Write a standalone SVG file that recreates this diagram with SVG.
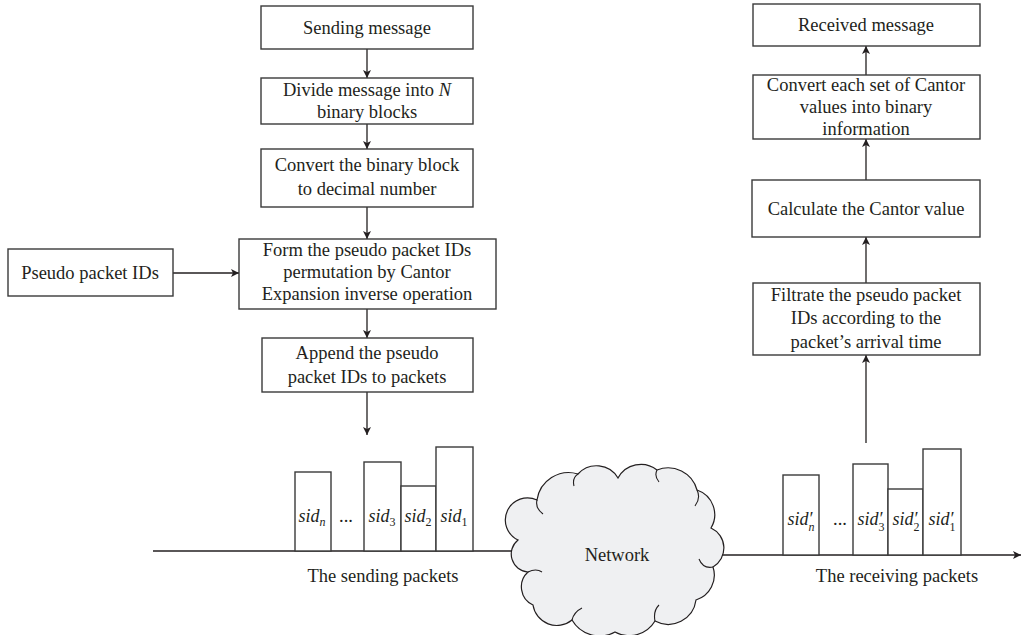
<svg xmlns="http://www.w3.org/2000/svg" width="1022" height="635" viewBox="0 0 1022 635">
<defs>
<marker id="ah" viewBox="0 0 10 10" refX="10" refY="5" markerWidth="8" markerHeight="8" markerUnits="userSpaceOnUse" orient="auto">
<path d="M0,0 L10,5 L0,10 L2.5,5 z" fill="#231f20"/>
</marker>
<style>
.box{fill:#fff;stroke:#3a3a3a;stroke-width:1.4}
.pk{fill:#fff;stroke:#3a3a3a;stroke-width:1.4}
.t{font-family:"Liberation Serif","Times New Roman",serif;font-size:18.5px;fill:#231f20;text-anchor:middle}
.s{font-family:"Liberation Serif","Times New Roman",serif;font-size:18px;font-style:italic;fill:#231f20;text-anchor:middle}
.sub{font-size:12px}
.subn{font-size:12px;font-style:normal}
.c{fill:none;stroke:#231f20;stroke-width:1.3}
.ca{fill:none;stroke:#231f20;stroke-width:1.3;marker-end:url(#ah)}
</style>
</defs>
<rect width="1022" height="635" fill="#fff"/>

<g id="connectors">
<line class="ca" x1="367" y1="49" x2="367" y2="78"/>
<line class="ca" x1="367" y1="124" x2="367" y2="149"/>
<line class="ca" x1="367" y1="207" x2="367" y2="239"/>
<line class="ca" x1="173" y1="273" x2="239" y2="273"/>
<line class="ca" x1="367" y1="309" x2="367" y2="338"/>
<line class="ca" x1="367" y1="392" x2="367" y2="435"/>
<line class="ca" x1="866" y1="443" x2="866" y2="355"/>
<line class="ca" x1="866" y1="283" x2="866" y2="237"/>
<line class="ca" x1="866" y1="180" x2="866" y2="139"/>
<line class="ca" x1="866" y1="75" x2="866" y2="46"/>
<line class="c" x1="153" y1="551" x2="520" y2="551"/>
<line class="ca" x1="714" y1="555" x2="1021" y2="555"/>
</g>

<g id="n-sending">
<rect class="box" x="261" y="6" width="212" height="43"/>
<text class="t" x="367" y="34">Sending message</text>
</g>
<g id="n-divide">
<rect class="box" x="261" y="78" width="212" height="46"/>
<text class="t" x="367" y="96">Divide message into <tspan font-style="italic">N</tspan></text>
<text class="t" x="367" y="118">binary blocks</text>
</g>
<g id="n-convert">
<rect class="box" x="261" y="149" width="212" height="58"/>
<text class="t" x="367" y="171">Convert the binary block</text>
<text class="t" x="367" y="195">to decimal number</text>
</g>
<g id="n-pseudo">
<rect class="box" x="8" y="249" width="165" height="47"/>
<text class="t" x="90" y="279">Pseudo packet IDs</text>
</g>
<g id="n-form">
<rect class="box" x="239" y="239" width="257" height="70"/>
<text class="t" x="367" y="256">Form the pseudo packet IDs</text>
<text class="t" x="367" y="278">permutation by Cantor</text>
<text class="t" x="367" y="300">Expansion inverse operation</text>
</g>
<g id="n-append">
<rect class="box" x="262" y="338" width="211" height="54"/>
<text class="t" x="367" y="359">Append the pseudo</text>
<text class="t" x="367" y="383">packet IDs to packets</text>
</g>

<g id="n-received">
<rect class="box" x="753" y="4" width="227" height="42"/>
<text class="t" x="866" y="31">Received message</text>
</g>
<g id="n-convert-each">
<rect class="box" x="753" y="75" width="227" height="64"/>
<text class="t" x="866" y="91">Convert each set of Cantor</text>
<text class="t" x="866" y="113">values into binary</text>
<text class="t" x="866" y="135">information</text>
</g>
<g id="n-calculate">
<rect class="box" x="752" y="180" width="228" height="57"/>
<text class="t" x="866" y="215">Calculate the Cantor value</text>
</g>
<g id="n-filtrate">
<rect class="box" x="753" y="283" width="227" height="72"/>
<text class="t" x="866" y="301">Filtrate the pseudo packet</text>
<text class="t" x="866" y="324">IDs according to the</text>
<text class="t" x="866" y="348">packet’s arrival time</text>
</g>

<g id="sending-packets">
<rect class="pk" x="295" y="472" width="36" height="79"/>
<rect class="pk" x="364" y="462" width="37" height="89"/>
<rect class="pk" x="401" y="486" width="35" height="65"/>
<rect class="pk" x="436" y="447" width="37" height="104"/>
<text class="s" x="312" y="522">sid<tspan class="sub" dy="4">n</tspan></text>
<text class="t" x="346" y="522">...</text>
<text class="s" x="382" y="522">sid<tspan class="subn" dy="4">3</tspan></text>
<text class="s" x="418" y="522">sid<tspan class="subn" dy="4">2</tspan></text>
<text class="s" x="454" y="522">sid<tspan class="subn" dy="4">1</tspan></text>
<text class="t" x="383" y="582">The sending packets</text>
</g>

<g id="n-network">
<path d="M518,540 A22,22 0 0 1 537,500 A32,32 0 0 1 578,474 A25,25 0 0 1 618,478 A26,26 0 0 1 657,470 A30,30 0 0 1 697,490 A26,26 0 0 1 711,528 A22,22 0 0 1 713,567 A26,26 0 0 1 696,600 A28,28 0 0 1 655,621 A30,30 0 0 1 615,632 A32,32 0 0 1 572,620 A24,24 0 0 1 533,605 A20,20 0 0 1 528,572 A18,18 0 0 1 518,540 Z" fill="#eff0f2" stroke="#231f20" stroke-width="1.2"/>
<path d="M578,474 q-6,4 -4,12 M657,470 q-3,6 2,12 M697,490 q4,8 -2,16 M713,567 q-10,2 -14,-8 M655,621 q-2,-10 4,-16 M572,620 q2,-8 10,-12 M528,572 q8,-4 14,0 M537,500 q-2,8 6,14" fill="none" stroke="#231f20" stroke-width="1.1"/>
<text class="t" x="617" y="561">Network</text>
</g>

<g id="receiving-packets">
<rect class="pk" x="783" y="475" width="36" height="80"/>
<rect class="pk" x="853" y="464" width="35" height="91"/>
<rect class="pk" x="888" y="489" width="35" height="66"/>
<rect class="pk" x="923" y="449" width="38" height="106"/>
<text class="s" x="801" y="525" font-size="17">sid′<tspan class="sub" dx="-4" dy="6">n</tspan></text>
<text class="t" x="840" y="525">...</text>
<text class="s" x="871" y="525" font-size="17">sid′<tspan class="subn" dx="-4" dy="6">3</tspan></text>
<text class="s" x="906" y="525" font-size="17">sid′<tspan class="subn" dx="-4" dy="6">2</tspan></text>
<text class="s" x="942" y="525" font-size="17">sid′<tspan class="subn" dx="-4" dy="6">1</tspan></text>
<text class="t" x="897" y="582">The receiving packets</text>
</g>
</svg>
